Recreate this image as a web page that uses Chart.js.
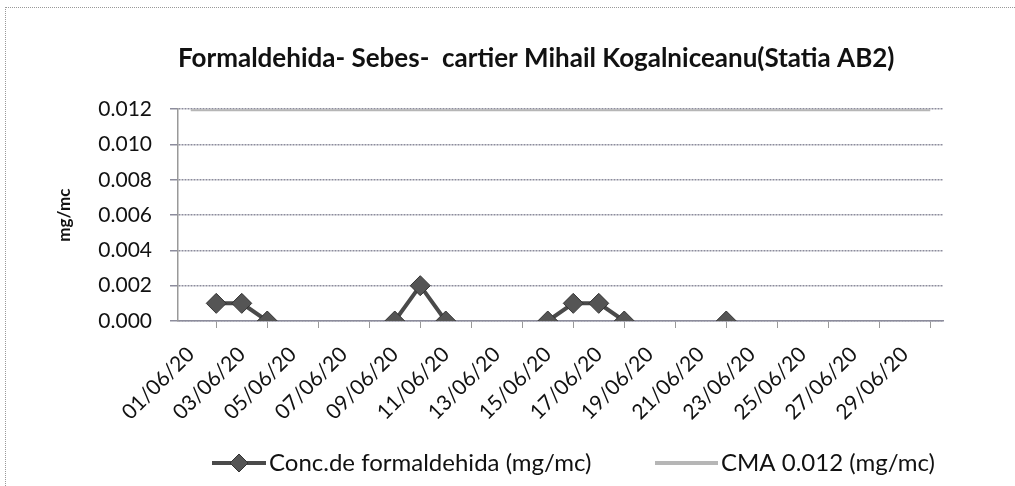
<!DOCTYPE html>
<html>
<head>
<meta charset="utf-8">
<script src="https://cdn.jsdelivr.net/npm/chart.js@4.4.0/dist/chart.umd.min.js"></script>
<style>
  html, body { margin: 0; padding: 0; background: #fff; }
  #chart { position: absolute; left: 0; top: 0; }
  #frame { position: absolute; left: 5px; top: 7px; width: 1010px; height: 479px; border-left: 1px dotted #999; border-top: 1px dotted #999; box-sizing: border-box; pointer-events: none; }
</style>
</head>
<body>
<canvas id="chart" width="1015" height="486"></canvas>
<div id="frame"></div>
<script>
const days = ['01/06/20','02/06/20','03/06/20','04/06/20','05/06/20','06/06/20','07/06/20','08/06/20','09/06/20','10/06/20',
              '11/06/20','12/06/20','13/06/20','14/06/20','15/06/20','16/06/20','17/06/20','18/06/20','19/06/20','20/06/20',
              '21/06/20','22/06/20','23/06/20','24/06/20','25/06/20','26/06/20','27/06/20','28/06/20','29/06/20','30/06/20'];
const conc = [null, 0.001, 0.001, 0.000, null, null, null, null, 0.000, 0.002,
              0.000, null, null, null, 0.000, 0.001, 0.001, 0.000, null, null,
              null, 0.000, null, null, null, null, null, null, null, null];
const cma = [0.012, 0.012, 0.012, 0.012, 0.012, 0.012, 0.012, 0.012, 0.012, 0.012,
             0.012, 0.012, 0.012, 0.012, 0.012, 0.012, 0.012, 0.012, 0.012, 0.012,
             0.012, 0.012, 0.012, 0.012, 0.012, 0.012, 0.012, 0.012, 0.012, 0.012];
const yTicks = [0.000, 0.002, 0.004, 0.006, 0.008, 0.010, 0.012];

const font = 'Lato, "Open Sans", sans-serif';
const concColor = '#4a4a4a';
const cmaColor = '#b6b6b6';

// legend drawn by hand: line with a diamond in the middle, then the text
const bottomLegend = {
    id: 'bottomLegend',
    afterDraw(chart) {
        const c = chart.ctx;
        const y = 463;
        c.save();
        c.lineWidth = 4;
        c.strokeStyle = concColor;
        c.beginPath(); c.moveTo(212, y); c.lineTo(266, y); c.stroke();
        c.fillStyle = '#555';
        c.strokeStyle = '#333';
        c.lineWidth = 1;
        c.beginPath();
        c.moveTo(239, y - 9); c.lineTo(248, y); c.lineTo(239, y + 9); c.lineTo(230, y);
        c.closePath(); c.fill(); c.stroke();
        c.strokeStyle = cmaColor;
        c.lineWidth = 4;
        c.beginPath(); c.moveTo(655, y); c.lineTo(718, y); c.stroke();
        c.font = '24px ' + font;
        c.fillStyle = '#111';
        c.textBaseline = 'middle';
        c.fillText(chart.data.datasets[0].label, 269, y);
        c.fillText(chart.data.datasets[1].label, 721, y);
        c.restore();
    },
};

const ctx = document.getElementById('chart').getContext('2d');
new Chart(ctx, {
    type: 'line',
    data: {
        labels: days,
        datasets: [
            {
                label: 'Conc.de formaldehida (mg/mc)',
                data: conc,
                borderColor: concColor,
                backgroundColor: '#555',
                borderWidth: 4,
                pointStyle: 'rectRot',
                pointRadius: 10,
                pointBorderColor: '#333',
                pointBorderWidth: 1,
                spanGaps: false,
                tension: 0,
                order: 0,
            },
            {
                label: 'CMA 0.012 (mg/mc)',
                data: cma,
                borderColor: cmaColor,
                backgroundColor: cmaColor,
                borderWidth: 4,
                pointRadius: 0,
                tension: 0,
                order: 1,
            },
        ],
    },
    plugins: [bottomLegend],
    options: {
        responsive: false,
        animation: false,
        layout: { padding: { left: 45, right: 72, top: 0, bottom: 45 } },
        plugins: {
            title: {
                display: true,
                fullSize: false,
                align: 'start',
                text: 'Formaldehida- Sebes-  cartier Mihail Kogalniceanu(Statia AB2)',
                font: { size: 26, weight: 'bold', family: font },
                color: '#111',
                padding: { top: 43, bottom: 35 },
            },
            legend: { display: false },
            tooltip: { enabled: false },
        },
        scales: {
            x: {
                offset: true,
                afterFit: (axis) => { axis.height = 120; },
                grid: {
                    offset: true,
                    drawOnChartArea: false,
                    drawTicks: true,
                    tickLength: 7,
                    color: '#999',
                },
                border: { color: '#8c8c9c', dash: [2, 1], width: 1.5 },
                ticks: {
                    autoSkip: false,
                    maxRotation: 45,
                    minRotation: 45,
                    padding: 14,
                    font: { size: 21, family: font },
                    color: '#111',
                    callback: function (val, i) { return i % 2 === 0 ? days[i] : null; },
                },
            },
            y: {
                min: 0,
                max: 0.012,
                afterFit: (axis) => { axis.width = 133; },
                afterBuildTicks: (axis) => { axis.ticks = yTicks.map((v) => ({ value: v })); },
                grid: {
                    color: '#8c8c9c',
                    lineWidth: 1.5,
                    tickLength: 8,
                },
                border: { color: '#999', dash: [2, 1], width: 1.5 },
                ticks: {
                    font: { size: 21, family: font },
                    color: '#111',
                    padding: 18,
                    callback: (v) => v.toFixed(3),
                },
                title: {
                    display: true,
                    text: 'mg/mc',
                    font: { size: 17, weight: 'bold', family: font },
                    color: '#111',
                    padding: { top: 9, bottom: 0 },
                },
            },
        },
    },
});
</script>
</body>
</html>
